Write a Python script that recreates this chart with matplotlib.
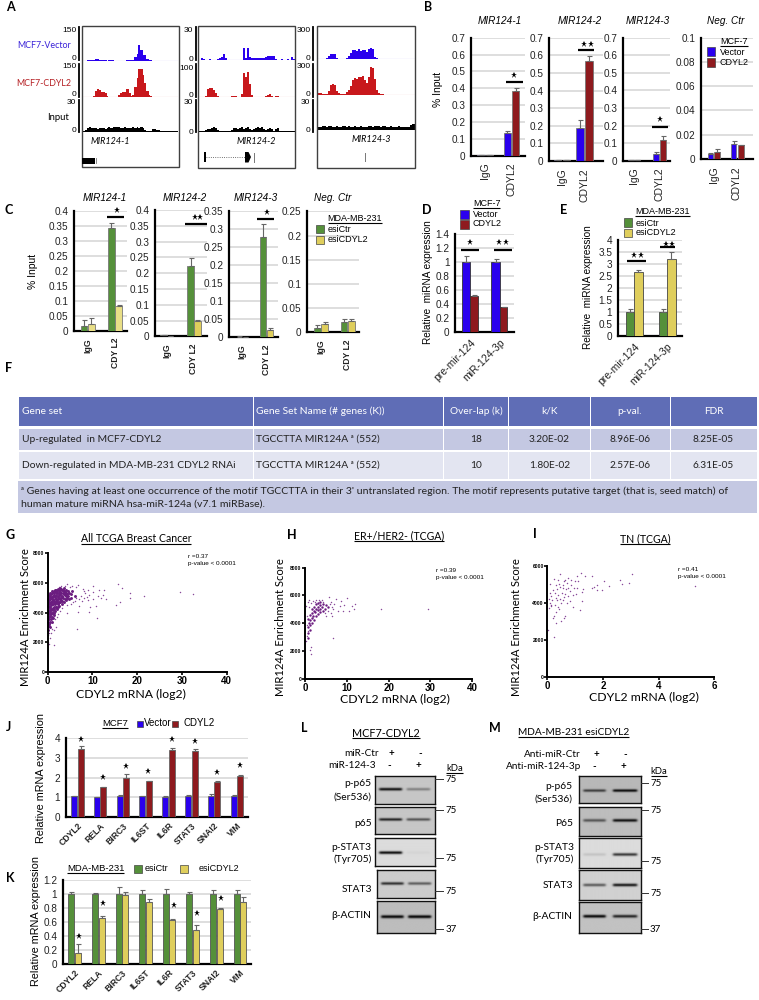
import numpy as np
import matplotlib
matplotlib.use("Agg")
import matplotlib.pyplot as plt
from matplotlib.patches import Rectangle, Polygon

W, H = 759, 1000
SANS = "Liberation Sans"
AV = "Lato"
BLUE, RED, GREEN, YEL, YEL2 = "#2A00EE", "#8E1A1E", "#55903A", "#DFCE5C", "#E8DE86"
PURPLE = "#6B1D80"

# ---------- Panel A tracks (signal per 2 px bin) ----------
A_vec1 = [2,2,3,3,4,6,9,9,5,3,3,3,2,3,3,3,2,2,2,2,2,2,3,3,4,5,18,30,72,48,28,25,8,4,3,2,2,1,1,1,1,1,1,1,1,1,1,1]
A_cd1 = [1,1,1,1,2,3,28,35,30,22,24,18,6,2,1,1,1,2,10,18,22,20,34,16,3,10,42,85,125,122,95,60,25,8,3,2,1,1,1,1,1,1,1,1,1,1,1,1]
A_in1 = [1,2,4,5,4,4,4,3,4,4,4,3,4,5,4,5,5,5,5,4,4,5,4,4,4,5,4,5,4,5,4,2,1,.5,1,3,3,2,1.5,1,.5,.5,.5,.5,.5,.5,.5,.5]
A_vec2 = [.3,2,.5,.3,.3,1,.3,.3,.3,1,1.5,3,5.5,1.5,.3,.3,.3,.3,.3,.3,.3,.3,11,1.5,11,2.5,2,2,2,2,2,2,2,3,4,3.5,3.5,3.5,.5,.3,.3,1,.3,.3,1,.3,2.5,.5]
A_cd2 = [1,1,1,2,24,28,26,20,12,3,1,1,1,1,1,1,2,3,3,1,1,10,72,60,76,40,5,1,1,1,1,1,1,2,5,9,3,1,2,3,1,1,1,1,1,1,1,1]
A_in2 = [.5,.5,.5,2,3,3,4,5,4,2,.5,.5,.5,.5,.5,.5,2,4,4,3,4,5,3,4,5,3,2,3,4,5,4,5,3,2,3,4,3,1,3,4,1,.5,.5,.5,.5,.5,.5,.5]
A_vec3 = [4,4,4,4,5,25,45,50,48,12,4,4,4,4,8,30,60,80,85,75,90,75,80,85,70,90,105,95,15,5,4,4,3,3,3,3,3,3,3,3,3,3,3,3,3,3,3,3]
A_cd3 = [15,15,12,8,8,40,90,105,95,40,15,10,10,12,25,50,85,145,160,150,165,170,180,140,110,170,260,250,150,45,15,8,5,4,3,3,3,2,2,2,2,2,2,2,2,2,2,2]
A_in3 = [3,3,4,4,3,4,4,3,3,4,3,3,4,4,3,4,3,3,4,3,3,4,3,3,3,4,4,3,4,4,4,3,4,4,3,3,4,3,3,3,4,3,3,3,3,3,5,6]

# ---------- Panels B, C ----------
BAR_GROUPS = ["IgG", "CDYL2"]
B1_vec, B1_vec_e, B1_cd, B1_cd_e = [.005,.135], [.002,.01], [.004,.385], [.001,.015]
B2_vec, B2_vec_e, B2_cd, B2_cd_e = [.005,.185], [.001,.045], [.004,.565], [.001,.03]
B3_vec, B3_vec_e, B3_cd, B3_cd_e = [.004,.04], [.001,.012], [.004,.118], [.001,.02]
B4_vec, B4_vec_e, B4_cd, B4_cd_e = [.004,.012], [.0012,.003], [.006,.0115], [.002,.0003]
C1_ctr, C1_ctr_e, C1_esi, C1_esi_e = [.018,.342], [.018,.018], [.022,.082], [.02,.006]
C2_ctr, C2_ctr_e, C2_esi, C2_esi_e = [.003,.223], [.0005,.025], [.002,.05], [.0005,.001]
C3_ctr, C3_ctr_e, C3_esi, C3_esi_e = [.002,.277], [.0005,.038], [.001,.02], [.0003,.005]
C4_ctr, C4_ctr_e, C4_esi, C4_esi_e = [.009,.021], [.007,.006], [.018,.024], [.004,.003]
# ---------- Panels D, E ----------
MIR_GROUPS = ["pre-mir-124", "miR-124-3p"]
D_vec, D_vec_e, D_cd, D_cd_e = [1,1], [.09,.05], [.52,.35], [.005,.005]
E_ctr, E_ctr_e, E_esi, E_esi_e = [1,1], [.13,.13], [2.65,3.22], [.08,.28]
# ---------- Panels J, K ----------
GENES = ["CDYL2","RELA","BIRC3","IL6ST","IL6R","STAT3","SNAI2","VIM"]
J_vec = [1.05,1.0,1.05,1.05,1.03,1.05,1.05,1.05]
J_vec_e = [.01,.01,.05,.03,.02,.05,.1,.05]
J_cd = [3.48,1.5,2.0,1.82,3.42,3.35,1.78,2.1]
J_cd_e = [.13,.01,.2,.02,.1,.1,.03,.03]
K_ctr = [1,1,1,1,1,1,1,1]
K_ctr_e = [.03,.005,.09,.06,.07,.03,.06,.05]
K_esi = [.16,.66,.98,.88,.63,.49,.79,.88]
K_esi_e = [.12,.03,.05,.04,.005,.06,.003,.07]

# ---------- Panel F ----------
F_head = ["Gene set","Gene Set Name (# genes (K))","Over-lap (k)","k/K","p-val.","FDR"]
F_row1 = ["Up-regulated  in MCF7-CDYL2","TGCCTTA MIR124A ᵃ (552)","18","3.20E-02","8.96E-06","8.25E-05"]
F_row2 = ["Down-regulated in MDA-MB-231 CDYL2 RNAi","TGCCTTA MIR124A ᵃ (552)","10","1.80E-02","2.57E-06","6.31E-05"]
F_note = ["ᵃ Genes having at least one occurrence of the motif TGCCTTA in their 3' untranslated region. The motif represents putative target (that is, seed match) of",
          "human mature miRNA hsa-miR-124a (v7.1 miRBase)."]

# ---------- Panels G, H, I scatter ----------
G_core = [(.1,2800),(.2,3100),(.15,3400),(.3,3700),(.1,3950),(.25,4200),(.12,4450),(.3,4700),(.15,4950),(.3,5200),
(.5,3050),(.55,3400),(.45,3750),(.6,4050),(.5,4350),(.55,4650),(.45,4900),(.6,5150),(.5,5350),
(.9,3400),(.85,3700),(.95,4000),(.8,4250),(.95,4550),(.85,4800),(.9,5050),(1.0,5300),(.85,5480),
(1.3,3850),(1.25,4150),(1.35,4400),(1.3,4700),(1.2,4950),(1.4,5200),(1.3,5450),
(1.7,4100),(1.75,4350),(1.65,4650),(1.8,4900),(1.7,5150),(1.75,5400),(1.8,5560),
(2.1,4250),(2.2,4550),(2.05,4800),(2.2,5050),(2.1,5300),(2.2,5500),
(2.6,4450),(2.55,4750),(2.7,5000),(2.6,5250),(2.65,5500),(2.7,5650),
(3.1,4600),(3.0,4850),(3.15,5100),(3.05,5350),(3.1,5550),
(3.6,4750),(3.5,5000),(3.65,5250),(3.55,5450),(3.7,5650),
(4.1,4850),(4.0,5100),(4.2,5300),(4.1,5500),
(4.7,4900),(4.6,5150),(4.8,5350),(5.3,5000),(5.2,5250),(5.5,5450),(6.0,5150),
(.35,3250),(.3,3550),(.35,3900),(.38,4100),(.35,4400),(.38,4600),(.32,4850),(.38,5050),
(.7,3550),(.72,3900),(.7,4200),(.72,4500),(.7,4750),(.75,5000),(.72,5250),
(1.1,3650),(1.1,3950),(1.08,4300),(1.12,4600),(1.1,4850),(1.1,5100),(1.12,5400),
(1.5,4000),(1.5,4250),(1.52,4550),(1.48,4800),(1.55,5050),(1.5,5300),(1.55,5520),
(1.95,4400),(1.92,4700),(1.95,4950),(1.9,5200),(1.95,5450),
(2.35,4400),(2.4,4650),(2.35,4900),(2.4,5150),(2.42,5400),(2.4,5620),
(2.85,4700),(2.85,4950),(2.8,5200),(2.85,5400),(2.9,5620),
(3.3,4800),(3.3,5050),(3.35,5300),(3.35,5520),(3.85,4950),(3.85,5200),(3.85,5420),(4.4,5020),(4.4,5280),(4.45,5480)]
G_outer = [(.3,1900),(.1,2050),(1.3,1800),(.6,2300),(.15,2500),(.3,2600),(.7,2650),(1.0,2900),(1.4,2850),(1.8,3000),(2.0,3700),(1.6,3600),
(2.4,3900),(2.8,4100),(3.3,4300),(4.4,4500),(5.1,4600),(4.3,3950),(6.6,2900),(6.8,4050),(7.1,4450),(6.0,4800),(5.7,4700),(6.4,5000),(6.9,4950),
(7.4,5100),(7.6,4800),(8.0,5000),(8.3,5300),(8.7,5050),(8.9,5500),(9.0,4850),(9.3,5200),(9.5,4400),(9.3,4050),(10.2,4900),(10.1,5400),(10.2,5800),
(10.8,4450),(11.0,3650),(11.3,5150),(11.5,5500),(12.0,5000),(12.3,5200),(12.6,5500),(13.0,4900),(15.3,4500),(15.7,5950),(16.2,4700),(16.7,5650),
(18.3,5300),(18.4,5000),(21.5,5100),(29.5,5370),(32.5,5270),(6.3,5750),(6.7,5850),(5.5,5800),(4.3,5950),(5.0,5700),(3.9,5800),(3.0,5800),(2.5,5750),(7.8,5600),(8.2,5450)]
H_core = [(.6,2900),(.8,3300),(.7,3700),(.9,4050),(.8,4300),(1.1,3500),(1.2,3900),(1.3,4250),(1.2,4600),(1.6,4000),(1.7,4350),(1.6,4700),(1.7,5000),
(2.1,4250),(2.0,4550),(2.2,4850),(2.1,5150),(2.6,4500),(2.5,4800),(2.7,5050),(2.6,5350),(3.1,4650),(3.0,4950),(3.2,5200),(3.1,5450),(3.6,4800),(3.5,5050),(3.7,5300),(3.6,5550),
(4.2,4900),(4.1,5150),(4.3,5400),(4.9,5050),(5.0,5300),(5.5,5150)]
H_outer = [(.1,2700),(.3,2750),(.2,5250),(.5,3050),(.6,3450),(.4,3900),(.5,4500),(.9,5200),(.7,5500),(1.0,5650),(1.5,5450),(1.4,1750),(1.5,2300),(1.2,2050),
(1.9,5600),(2.3,5550),(2.7,5700),(3.4,5650),(4.0,5700),(4.3,5550),(4.8,4700),(5.0,4550),(5.5,4850),(5.8,5900),(6.2,5500),(6.4,4500),(6.5,5200),(6.6,2950),(6.8,5000),
(7.0,5350),(7.5,5750),(8.0,4900),(8.3,5250),(8.7,5600),(9.0,4850),(9.4,5300),(10.1,5850),(10.5,4900),(11.3,5250),(11.8,5000),(12.0,5400),(18.2,5050),(29.5,5000),(5.9,5350),(6.1,4750)]
I_pts = [(.02,2550),(.05,3750),(.08,4000),(.1,4550),(.08,5050),(.15,3900),(.18,4200),(.2,3200),(.22,4700),(.25,3300),(.23,2150),(.28,3900),(.3,4300),(.3,5000),(.33,2950),
(.35,4150),(.35,4750),(.38,3800),(.4,5250),(.4,4450),(.43,3700),(.45,5600),(.45,4900),(.5,3050),(.5,4000),(.52,4550),(.55,4200),(.55,4800),(.58,5000),(.6,3200),(.6,4350),
(.62,5250),(.65,3300),(.65,4500),(.68,4750),(.7,4000),(.72,5100),(.75,4850),(.75,5350),(.8,4100),(.82,4650),(.85,5250),(.92,3800),(.93,4450),(.95,4850),(1.0,5200),(1.03,4500),
(1.05,4850),(1.05,5450),(1.1,5200),(1.18,3650),(1.2,5650),(1.25,4100),(1.25,4600),(1.28,4750),(1.37,5450),(1.62,4850),(1.62,5450),(1.68,4900),(1.78,4700),(1.8,5000),(1.97,4700),
(2.05,5200),(2.2,4950),(2.62,5250),(2.7,5050),(2.95,5100),(3.05,5600),(5.3,4950),(.15,4400),(.27,4550),(.32,3550),(.12,3850),(.47,4250),(.42,5050),(.25,5300),(.6,5200),(.75,4400),(.05,4250),(.85,5000)]

# ---------- Panels L, M western blots: band strength per lane ----------
L_bands = [(.8,.3),(.72,.5),(.92,.03),(.68,.48),(.8,.82)]
M_bands = [(.55,.8),(.45,.75),(.1,.7),(.5,.8),(.82,.68)]

plt.rcParams["font.family"] = [SANS, "DejaVu Sans"]
fig = plt.figure(figsize=(W/100, H/100), dpi=100, facecolor="white")

def axpx(x0, ytop, x1, ybot, z=2):
    return fig.add_axes([x0/W, 1-ybot/H, (x1-x0)/W, (ybot-ytop)/H], zorder=z)

ov = axpx(0, 0, W, H, z=5)
ov.set_xlim(0, W); ov.set_ylim(H, 0); ov.axis("off"); ov.patch.set_alpha(0)
bg = axpx(0, 0, W, H, z=0)
bg.set_xlim(0, W); bg.set_ylim(H, 0); bg.axis("off")

def T(x, y, s, size=7.5, ha="left", va="center", fam=SANS, **k):
    return ov.text(x, y, s, fontsize=size, ha=ha, va=va, family=[fam, "DejaVu Sans"], **k)

def UL(x, y, s, size=7.5, ha="center", fam=AV, dy=5, **k):
    t = T(x, y, s, size, ha=ha, fam=fam, **k)
    bb = t.get_window_extent(fig.canvas.get_renderer())
    ov.plot([bb.x0, bb.x1], [y+dy, y+dy], color="black", lw=.8, solid_capstyle="butt")

for s, x, y in [("A",10,7),("B",428,7),("C",9,210),("D",427,210),("E",563.7,210),("F",9,368),("G",10,535),
                ("H",292,535),("I",535,534),("J",8,727),("K",10,878),("L",304,728),("M",495,728)]:
    T(x, y, s, 9, ha="center", fam=AV, fontweight="bold")

# ---------- A ----------
def track(x0, x1, ytop, ybase, vals, vmax, col):
    a = axpx(x0, ytop, x1, ybase)
    v = np.asarray(vals, float)
    e = np.linspace(0, 1, len(v)+1)
    a.stairs(v, e, fill=True, color=col, lw=0)
    a.axhline(0, color=col, lw=.8, alpha=.5)
    a.set_xlim(0, 1); a.set_ylim(0, vmax); a.axis("off")

boxes = [(82,179,26,167),(198,295,26,168),(317,415,26,168)]
rows = [
  [(A_vec1,150,27,61,BLUE),(A_cd1,150,63,97,"#C8181C"),(A_in1,30,100,132,"black")],
  [(A_vec2,30,27,60,BLUE),(A_cd2,100,64,97,"#C8181C"),(A_in2,30,100,132,"black")],
  [(A_vec3,300,27,59,BLUE),(A_cd3,300,63,95,"#C8181C"),(A_in3,30,100,130,"black")],
]
for b, r in zip(boxes, rows):
    for (v, m, yt, yb, c) in r:
        track(b[0]+.5, b[1]-.5, yt, yb, v, m, c)
    ov.add_patch(Rectangle((b[0], b[2]), b[1]-b[0], b[3]-b[2], fc="none", ec="#404040", lw=1))
for xb, labs in [(78.7,[("150",31),("0",58.5),("150",67),("0",95),("30",103),("0",131)]),
                 (196,[("30",31),("0",59.5),("100",68),("0",95.5),("30",103),("0",132)]),
                 (313,[("300",30),("0",58.5),("300",66.5),("0",94),("30",103),("0",131)])]:
    for ya, yb in [(27,60),(64,97),(100,132)]:
        ov.plot([xb, xb], [ya, yb], color="black", lw=1.3)
    for s, y in labs:
        T(xb-2.5, y, s, 6, ha="right")
T(71,46,"MCF7-Vector",6.4,ha="right",fam=AV,color="#3A22D8")
T(71,83,"MCF7-CDYL2",6.4,ha="right",fam=AV,color="#B52024")
T(69,117,"Input",6.8,ha="right",fam=AV)
T(110,142,"MIR124-1",6.5,ha="center",fam=AV,style="italic")
T(256,142,"MIR124-2",6.5,ha="center",fam=AV,style="italic")
T(371,140,"MIR124-3",6.5,ha="center",fam=AV,style="italic")
ov.add_patch(Rectangle((82,157.7),13,6.3,fc="black",ec="none"))
ov.plot([95.5,95.5],[158,163],color="#777",lw=.6)
ov.add_patch(Rectangle((203.7,151.7),2.6,10.6,fc="black",ec="none"))
ov.plot([206,246],[157,157],color="#444",lw=.6,ls=":")
ov.add_patch(Polygon([(245,152),(248.5,152),(251,157),(248.5,162.5),(245,162.5)],fc="black",ec="none"))
ov.plot([254,254],[153,162],color="#777",lw=.7)
ov.plot([365,365],[153,161],color="#777",lw=.7)

# ---------- bar panels ----------
def bars(rect, ymax, ticks, fmt, cpx, w1, w2, gap, groups, s1, e1, s2, e2, c1, c2,
         rot=90, lab_size=7.5, bold=False, ha="center", pad=5, grid="#D4D4D4", ecol="#777777"):
    x0, x1, ytop, y0 = rect
    a = axpx(x0, ytop, x1, y0, z=3)
    n = len(s1)
    k = (n-1)/(cpx[1]-cpx[0])
    pos = np.arange(n)
    l1 = (-gap/2-w1/2)*k
    l2 = (gap/2+w2/2)*k
    a.bar(pos+l1, s1, width=w1*k, color=c1, edgecolor=ecol, lw=.6, zorder=3,
          yerr=[np.zeros(n), e1], error_kw=dict(ecolor="#666", elinewidth=.8, capsize=1.8, capthick=.8))
    a.bar(pos+l2, s2, width=w2*k, color=c2, edgecolor=ecol, lw=.6, zorder=3,
          yerr=[np.zeros(n), e2], error_kw=dict(ecolor="#666", elinewidth=.8, capsize=1.8, capthick=.8))
    a.set_xlim((x0-cpx[0])*k, (x1-cpx[0])*k)
    a.set_ylim(0, ymax)
    a.set_yticks(ticks)
    a.set_yticklabels([fmt(t) for t in ticks], fontsize=7.2, color="#222")
    a.tick_params(axis="y", length=0, pad=4)
    a.set_xticks(pos)
    a.set_xticklabels(groups, fontsize=lab_size, rotation=rot, ha=ha,
                      rotation_mode="anchor" if rot != 90 else "default",
                      fontweight="bold" if bold else "normal", color="#222")
    a.tick_params(axis="x", length=0, pad=pad)
    a.yaxis.grid(True, color=grid, lw=1.1); a.set_axisbelow(True)
    for s in ("top","right"):
        a.spines[s].set_visible(False)
    a.spines["left"].set_linewidth(1.6); a.spines["bottom"].set_linewidth(1.6)
    a.patch.set_alpha(0)
    return a

f7 = lambda t: ("0" if t == 0 else f"{t:g}")
t07 = [0,.1,.2,.3,.4,.5,.6,.7]
bars((470.7,525,37.7,155.7),.7,t07,f7,(485,511.5),7.5,7,1,BAR_GROUPS,B1_vec,B1_vec_e,B1_cd,B1_cd_e,BLUE,RED)
bars((549,603,37.7,161),.7,t07,f7,(562,584.5),7.5,7.7,1.2,BAR_GROUPS,B2_vec,B2_vec_e,B2_cd,B2_cd_e,BLUE,RED)
bars((622.7,670,37.7,160.7),.7,t07,f7,(634,659.7),6,6,.6,BAR_GROUPS,B3_vec,B3_vec_e,B3_cd,B3_cd_e,BLUE,RED)
bars((700.7,752.7,37.7,159),.1,[0,.02,.04,.06,.08,.1],f7,(713.7,737),5.5,6,1.2,BAR_GROUPS,B4_vec,B4_vec_e,B4_cd,B4_cd_e,BLUE,RED)
t04 = [0,.05,.1,.15,.2,.25,.3,.35,.4]
bold_kw = dict(lab_size=6.2, bold=True)
C_L = ["IgG","CDY L2"]
bars((74.3,127,210.7,331),.4,t04,f7,(87.5,115),6.5,7,.7,C_L,C1_ctr,C1_ctr_e,C1_esi,C1_esi_e,GREEN,YEL2,**bold_kw)
bars((155,206.7,210,336.3),.4,t04,f7,(167,194),6.5,6.5,.3,C_L,C2_ctr,C2_ctr_e,C2_esi,C2_esi_e,GREEN,YEL,**bold_kw)
bars((228.7,278,211,337.3),.35,t04[:-1],f7,(242,266.3),6,6,.6,C_L,C3_ctr,C3_ctr_e,C3_esi,C3_esi_e,GREEN,YEL,**bold_kw)
bars((307,359,211.3,332.3),.25,[0,.05,.1,.15,.2,.25],f7,(321,347.5),6.5,7,.7,C_L,C4_ctr,C4_ctr_e,C4_esi,C4_esi_e,GREEN,YEL,**bold_kw)
bars((455,514,234.3,331.7),1.4,[0,.2,.4,.6,.8,1,1.2,1.4],f7,(470,499.7),8.2,7.5,.2,MIR_GROUPS,D_vec,D_vec_e,D_cd,D_cd_e,BLUE,RED,rot=45,ha="right",pad=4,ecol="#333")
bars((617.7,682,239.7,336.3),4,[0,.5,1,1.5,2,2.5,3,3.5,4],f7,(634,667),8,8.5,.1,MIR_GROUPS,E_ctr,E_ctr_e,E_esi,E_esi_e,GREEN,YEL,rot=45,ha="right",pad=4,ecol="#444")
bars((65.7,248,738.3,817),4,[0,1,2,3,4],f7,(77.3,237),6,6,.6,GENES,J_vec,J_vec_e,J_cd,J_cd_e,BLUE,RED,rot=45,ha="right",lab_size=6.2,bold=True,pad=3,ecol="#666")
bars((62.7,251,879.7,964),1.2,[0,.2,.4,.6,.8,1,1.2],f7,(74.7,240),6,6,.6,GENES,K_ctr,K_ctr_e,K_esi,K_esi_e,GREEN,YEL,rot=45,ha="right",lab_size=6.2,bold=True,pad=3,ecol="#555")

def star(pts, ms=5):
    xs, ys = zip(*pts)
    ov.plot(xs, ys, "*", color="black", ms=ms, mew=0, ls="none")
def sig(x0, x1, y):
    ov.plot([x0, x1], [y, y], color="black", lw=1.6, solid_capstyle="butt")

for a, b, y in [(506,523.3,82),(577.7,594,50.3),(651.7,668.3,126.7),(107.3,124,217),(185,207.3,224),(257.3,274,218.7),
                (461,479.3,250),(494,512,250),(627.3,645.7,261.3),(660,675.3,247.3)]:
    sig(a, b, y)
star([(514,75.3),(584,44.3),(590.7,44.3),(660.3,119.3),(117,209.7),(195,216.7),(200,216.7),(267,211.7),
      (469.7,242.3),(499.3,242.3),(506,242.3),(634.3,255),(640.7,255),(666,244.3),(672,244.3)])
star([(x/3, 695+y/3) for x, y in [(243,132),(309,246),(377,213),(444,227),(515,132),(584,137),(652,232),(719,209)]])
star([(x/3, 840+y/3) for x, y in [(237,287),(308,189),(521,195),(590,219),(662,173)]])

# titles
for s, x in [("MIR124-1",500),("MIR124-2",580),("MIR124-3",648.3)]:
    T(x,20.7,s,7.2,ha="center",fam=SANS,style="italic")
T(726,20.7,"Neg. Ctr",7.2,ha="center",style="italic")
for s, x in [("MIR124-1",105),("MIR124-2",185),("MIR124-3",256)]:
    T(x,197.7,s,7.2,ha="center",style="italic")
T(333,197.7,"Neg. Ctr",7.2,ha="center",style="italic")

for s, x, y, z in [("% Input",438.3,89,7.5),("% Input",33.3,271,7.5),("Relative  miRNA expression",428.3,282.3,7.2),
                ("Relative  miRNA expression",588.3,286.7,7.2),("Relative mRNA expression",40.7,778,7.8),("Relative mRNA expression",36,921,7.8)]:
    T(x,y,s,z,ha="center",rotation=90)

def sq(x0, x1, y0, y1, c):
    ov.add_patch(Rectangle((x0,y0),x1-x0,y1-y0,fc=c,ec="#444",lw=.5))
UL(734,41,"MCF-7",6.5,fam=SANS); sq(706.7,715,47.3,56,BLUE); sq(706.7,715,58.3,66.7,RED)
T(720,52.3,"Vector",6.5); T(720,62.3,"CDYL2",6.5)
UL(355,218.3,"MDA-MB-231",6.5,fam=SANS,dy=4.5); sq(315.7,324,225,233.3,GREEN); sq(315.7,324,235.7,244,YEL)
T(328,229.3,"esiCtr",6.5); T(328,239,"esiCDYL2",6.5)
UL(486.7,203.3,"MCF-7",6.5,fam=SANS,dy=4.5); sq(460.3,468.7,210,219,BLUE); sq(460.3,468.7,220,229,RED)
T(472.7,214.3,"Vector",6.5); T(472.7,224,"CDYL2",6.5)
UL(662.7,211.7,"MDA-MB-231",6.5,fam=SANS,dy=4.5); sq(624.3,632.3,218.3,227,GREEN); sq(624.3,632.3,228.7,237,YEL)
T(635.3,223,"esiCtr",6.5); T(635.3,232.3,"esiCDYL2",6.5)
UL(114.7,723.3,"MCF7",6.8,fam=SANS); sq(136.7,142.7,720.5,727,BLUE); sq(172,178,720.5,727,RED)
T(144,723.3,"Vector",7); T(184,723.3,"CDYL2",7)
UL(95.7,868.3,"MDA-MB-231",6.8,fam=SANS); sq(134.3,141.7,865,873,GREEN); sq(180,187.7,865,873,YEL)
T(145,868.3,"esiCtr",6.5); T(199,868.3,"esiCDYL2",6.5)

# ---------- F table ----------
cx = [18,253.4,443.7,508.7,590,670,757]
ry = [(397,426,"#5F6DB6",F_head,"white"),(429,450,"#C4C8E2",F_row1,"#222"),(452,479,"#E3E5F1",F_row2,"#222")]
for y0, y1, c, row, tc in ry:
    for i in range(6):
        bg.add_patch(Rectangle((cx[i]+.5,y0),cx[i+1]-cx[i]-1,y1-y0,fc=c,ec="none"))
        if i < 2:
            ov.text(cx[i]+(3 if i else 4),(y0+y1)/2,row[i],fontsize=7.4,va="center",color=tc,family=[AV,"DejaVu Sans"])
        else:
            ov.text((cx[i]+cx[i+1])/2,(y0+y1)/2,row[i],fontsize=7.3,va="center",ha="center",color=tc,family=[AV,"DejaVu Sans"])
bg.add_patch(Rectangle((18,481),739,32,fc="#C4C8E2",ec="none"))
for s, y in zip(F_note, (491.5,504)):
    ov.text(21,y,s,fontsize=7.55,va="center",color="#222",family=[AV,"DejaVu Sans"])

# ---------- scatter ----------
def scat(rect, xmax, ymax, xt, yt, core, outer, s_core=4):
    x0, x1, ytop, y0 = rect
    a = axpx(x0, ytop, x1, y0)
    if core:
        xs, ys = zip(*core)
        a.scatter(xs, ys, s=s_core, color=PURPLE, lw=0, clip_on=False)
    xs, ys = zip(*outer)
    a.scatter(xs, ys, s=1.1, color=PURPLE, lw=0, alpha=.8, clip_on=False)
    a.set_xlim(0, xmax); a.set_ylim(0, ymax)
    a.set_xticks(xt); a.set_yticks(yt)
    a.set_xticklabels([str(t) for t in xt], fontsize=7, fontweight="bold")
    a.set_yticklabels([str(t) for t in yt], fontsize=3.6, fontweight="bold")
    a.tick_params(axis="x", length=2, width=1.2, pad=1)
    a.tick_params(axis="y", length=2, width=1.2, pad=.5)
    for s in ("top","right"):
        a.spines[s].set_visible(False)
    a.spines["left"].set_linewidth(1.4); a.spines["bottom"].set_linewidth(1.4)

scat((47.7,226.7,553.3,672),40,8000,[0,10,20,30,40],[0,2000,4000,6000,8000],G_core,G_outer,s_core=4.5)
scat((305,472.3,567.7,678.7),40,8000,[0,10,20,30,40],[0,2000,4000,6000,8000],H_core,H_outer,s_core=3)
scat((547.3,714.3,566.3,677),6,6000,[0,2,4,6],[0,2000,4000,6000],None,I_pts)

UL(136,539,"All TCGA Breast Cancer",7.6)
UL(399,536,"ER+/HER2- (TCGA)",7.6)
UL(645,539,"TN (TCGA)",7.6)
for x, y in [(131,694),(395,699),(644,697)]:
    T(x,y,"CDYL2 mRNA (log2)",8.8,ha="center",fam=AV)
for x, y in [(26,617),(280.7,627),(516,627)]:
    T(x,y,"MIR124A Enrichment Score",8.1,ha="center",fam=AV,rotation=90)
for x, y1, y2, r in [(187.7,556,564,"0.37"),(435.7,570.7,577.7,"0.39"),(677.7,569.3,576.7,"0.41")]:
    T(x,y1,"r ="+r,4.6); T(x,y2,"p-value < 0.0001",4.6)

# ---------- blots ----------
def blot(x0, x1, y0, y1, strengths, lanes, by, th=.045, bg_v=.78):
    a = axpx(x0, y0, x1, y1, z=3)
    ny, nx = 90, 180
    yy, xx = np.mgrid[0:1:ny*1j, 0:1:nx*1j]
    img = np.full((ny, nx), bg_v)
    for st, (l0, l1) in zip(strengths, lanes):
        win = .5*(np.tanh((xx-l0)/.02)-np.tanh((xx-l1)/.02))
        img -= st*win*np.exp(-((yy-by)/th)**2)
    a.imshow(np.clip(img,0,1), cmap="gray", vmin=0, vmax=1, aspect="auto", interpolation="bicubic", extent=[0,1,1,0])
    a.set_xticks([]); a.set_yticks([])
    for s in a.spines.values():
        s.set_linewidth(1); s.set_color("#111")

Lx = [(375.3,434.7,775.7,804.3,.49),(375.3,434.7,807,834.3,.48),(375.3,434.7,837.7,866.3,.54),(376.7,435.3,869.7,898.3,.5),(376.7,435.3,901,933,.49)]
for r, st, bgv in zip(Lx, L_bands, (.78,.78,.86,.8,.74)):
    blot(r[0],r[1],r[2],r[3],st,[(.07,.45),(.53,.92)],r[4],bg_v=bgv)
Mx = [(579.3,640.7,776.3,803.3,.54),(579.3,640.7,806.7,836.3,.48),(579.3,640.7,838.3,868.3,.55),(579.3,640.7,870.3,900,.5),(579.3,640.7,902.3,933.3,.46)]
for r, st, bgv in zip(Mx, M_bands, (.72,.74,.86,.82,.76)):
    blot(r[0],r[1],r[2],r[3],st,[(.07,.43),(.55,.94)],r[4],bg_v=bgv)

UL(386,733.3,"MCF7-CDYL2",7.8)
T(379,753.3,"miR-Ctr",7.2,ha="right",fam=AV); T(375.7,765.7,"miR-124-3",7.2,ha="right",fam=AV)
UL(573.7,732.3,"MDA-MB-231 esiCDYL2",7.3)
T(581,754.3,"Anti-miR-Ctr",7.2,ha="right",fam=AV); T(581,766.7,"Anti-miR-124-3p",7.2,ha="right",fam=AV)
for x, y, s in [(391,753.3,"+"),(420,753.3,"-"),(389.3,765.7,"-"),(418.3,765.7,"+"),(596,754.3,"+"),(625,754.3,"-"),(594.7,766.7,"-"),(623.3,766.7,"+")]:
    T(x,y,s,7,ha="center",fam=AV,fontweight="bold")
for x, y, s in [(371.7,784,"p-p65"),(371.7,797,"(Ser536)"),(371.7,823.3,"p65"),(371.7,847,"p-STAT3"),(371.7,859.3,"(Tyr705)"),(371.7,889.3,"STAT3"),(371.7,915.7,"β-ACTIN"),
                (572.7,786.7,"p-p65"),(572.7,799,"(Ser536)"),(572.7,823.3,"P65"),(574.3,847,"p-STAT3"),(574.3,859.7,"(Tyr705)"),(572.7,885.3,"STAT3"),(572.7,916.3,"β-ACTIN")]:
    T(x,y,s,7.4,ha="right",fam=AV)
UL(454.3,768.3,"kDa",6.8,dy=4.5); UL(659,771,"kDa",6.8,dy=4.5)
for xa, xb, xt, lst in [(434.7,442.7,445.7,[(779.3,"75"),(810,"75"),(857.7,"75"),(890.7,"75"),(929.3,"37")]),
                        (640.7,648.3,650,[(782.7,"75"),(810,"75"),(861,"75"),(893,"75"),(928.7,"37")])]:
    for y, s in lst:
        ov.plot([xa,xb],[y,y],color="#333",lw=.7)
        T(xt,y+.5,s,7,fam=AV)

fig.savefig("out.png", dpi=100, facecolor="white")
